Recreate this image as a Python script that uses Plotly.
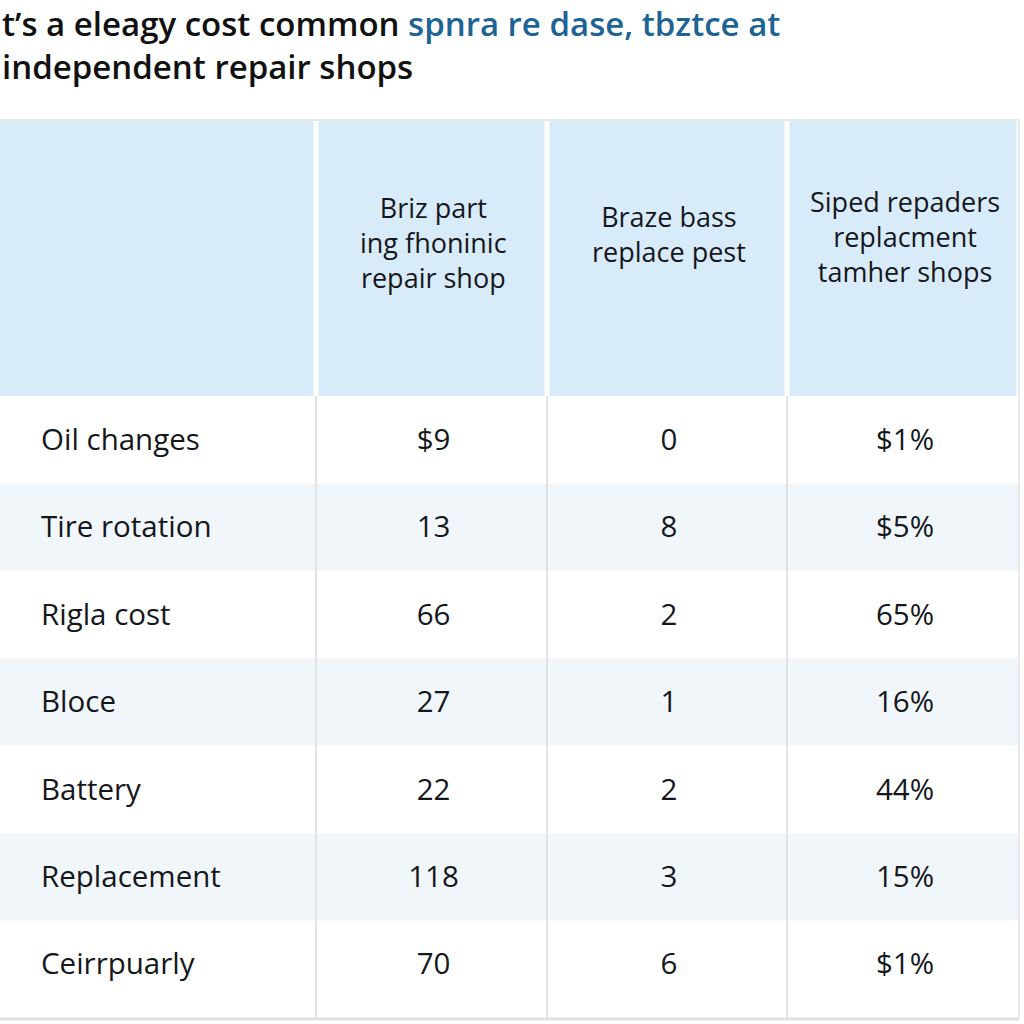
import plotly.graph_objects as go

# ---- data ----
title_black = "t’s a eleagy cost common "
title_blue = "spnra re dase, tbztce at"
title_line2 = "independent repair shops"

headers = ["",
           "Briz part<br>ing fhoninic<br>repair shop",
           "Braze bass<br>replace pest",
           "Siped repaders<br>replacment<br>tamher shops"]
services = ["Oil changes", "Tire rotation", "Rigla cost", "Bloce",
            "Battery", "Replacement", "Ceirrpuarly"]
col_a = ["$9", "13", "66", "27", "22", "118", "70"]
col_b = ["0", "8", "2", "1", "2", "3", "6"]
col_c = ["$1%", "$5%", "65%", "16%", "44%", "15%", "$1%"]

# ---- layout constants (pixel-like axis units) ----
W = 1024
COL_EDGES = [0, 316, 547, 787, 1019]
HEADER_TOP = 120
HEADER_BOTTOM = 396
HEADER_Y = [240, 242, 234, 236]
ROW_H = 87.4
TEXT_DY = 3
TABLE_BOTTOM = 1019
GAP = 2.5
FONT = "Open Sans"
HEADER_FILL = "#d8ebf9"
ALT_FILL = "#f1f6fb"
GRID = "#dfe4e8"
TEXT = "#15171c"
BLUE = "#1d6494"

n = len(services)
row_tops = [HEADER_BOTTOM + i * ROW_H for i in range(n)]
row_bots = [HEADER_BOTTOM + (i + 1) * ROW_H if i < n - 1 else TABLE_BOTTOM for i in range(n)]
row_mid = [HEADER_BOTTOM + (i + 0.5) * ROW_H + TEXT_DY for i in range(n)]
col_mid = [(COL_EDGES[j] + COL_EDGES[j + 1]) / 2 for j in range(len(COL_EDGES) - 1)]

fig = go.Figure()

shapes = []
for j in range(len(COL_EDGES) - 1):
    x0 = COL_EDGES[j] + (GAP if j > 0 else 0)
    x1 = COL_EDGES[j + 1] - GAP
    shapes.append(dict(type="rect", xref="x", yref="y", x0=x0, x1=x1,
                       y0=HEADER_TOP + 1, y1=HEADER_BOTTOM, fillcolor=HEADER_FILL,
                       line=dict(width=0), layer="below"))
for i in range(n):
    if i % 2 == 1:
        shapes.append(dict(type="rect", xref="x", yref="y", x0=0, x1=COL_EDGES[-1],
                           y0=row_tops[i], y1=row_bots[i], fillcolor=ALT_FILL,
                           line=dict(width=0), layer="below"))
for e in COL_EDGES[1:-1]:
    shapes.append(dict(type="line", xref="x", yref="y", x0=e, x1=e,
                       y0=HEADER_BOTTOM, y1=TABLE_BOTTOM,
                       line=dict(color=GRID, width=2), layer="below"))
shapes.append(dict(type="line", xref="x", yref="y", x0=0, x1=COL_EDGES[-1],
                   y0=HEADER_TOP, y1=HEADER_TOP, line=dict(color="#e6eaee", width=2)))
shapes.append(dict(type="line", xref="x", yref="y", x0=0, x1=COL_EDGES[-1],
                   y0=TABLE_BOTTOM, y1=TABLE_BOTTOM, line=dict(color="#dde1e5", width=3)))
shapes.append(dict(type="line", xref="x", yref="y", x0=COL_EDGES[-1], x1=COL_EDGES[-1],
                   y0=HEADER_TOP, y1=TABLE_BOTTOM, line=dict(color="#e6eaee", width=2)))

BODY_FONT = dict(family=FONT, size=29.5, color=TEXT, weight=500)

fig.add_trace(go.Scatter(
    x=[COL_EDGES[0] + 41] * n, y=row_mid, text=services, mode="text",
    textposition="middle right", textfont=BODY_FONT,
    hoverinfo="skip", showlegend=False))
for j, vals in enumerate([col_a, col_b, col_c], start=1):
    fig.add_trace(go.Scatter(
        x=[col_mid[j] + 2] * n, y=row_mid, text=vals, mode="text",
        textposition="middle center", textfont=BODY_FONT,
        hoverinfo="skip", showlegend=False))

annotations = []
for j, h in enumerate(headers):
    if h:
        annotations.append(dict(x=col_mid[j] + 2, y=HEADER_Y[j], xref="x", yref="y", text=h,
                                showarrow=False, xanchor="center", yanchor="middle",
                                align="center",
                                font=dict(family=FONT, size=27, color=TEXT, weight=500)))
annotations.append(dict(x=0, y=23, xref="paper", yref="y", xanchor="left", yanchor="middle",
                        showarrow=False, align="left",
                        text=title_black + f"<span style='color:{BLUE}'>{title_blue}</span>",
                        font=dict(family=FONT, size=33, color="#111111", weight=600)))
annotations.append(dict(x=0, y=66, xref="paper", yref="y", xanchor="left", yanchor="middle",
                        showarrow=False, align="left", text=title_line2,
                        font=dict(family=FONT, size=33, color="#111111", weight=600)))

fig.update_layout(
    width=W, height=W,
    margin=dict(l=0, r=0, t=0, b=0),
    paper_bgcolor="white", plot_bgcolor="white",
    xaxis=dict(range=[0, W], visible=False, fixedrange=True),
    yaxis=dict(range=[W, 0], visible=False, fixedrange=True),
    shapes=shapes, annotations=annotations,
)
fig.write_html("out.html", config={"displayModeBar": False},
               post_script="document.body.style.margin='0';document.body.style.overflow='hidden';")
